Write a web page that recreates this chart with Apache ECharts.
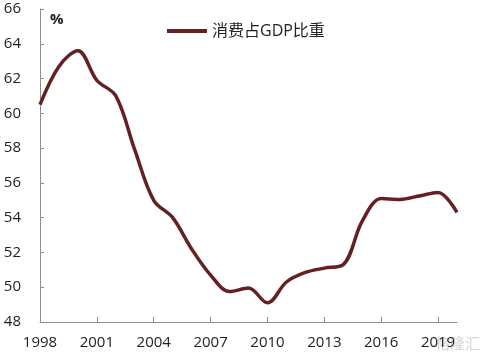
<!DOCTYPE html>
<html>
<head>
<meta charset="utf-8">
<script src="https://cdn.jsdelivr.net/npm/echarts@6/dist/echarts.min.js"></script>
<style>html,body{margin:0;padding:0;background:#fff}#c{width:486px;height:356px}</style>
</head>
<body>
<div id="c"></div>
<script>
var years = ['1998','1999','2000','2001','2002','2003','2004','2005','2006','2007','2008','2009','2010','2011','2012','2013','2014','2015','2016','2017','2018','2019','2020'];
var consumptionShare = [60.5,62.7,63.6,61.9,61.0,57.9,55.0,54.0,52.2,50.7,49.75,49.95,49.1,50.3,50.85,51.1,51.3,53.8,55.1,55.05,55.25,55.45,54.3];
var seriesName = '消费占GDP比重';
var yMin = 48, yMax = 66, yStep = 2;
var unitLabel = '%';

var chart = echarts.init(document.getElementById('c'));
var font = '"Open Sans", "Noto Sans CJK SC", sans-serif';
chart.setOption({
  animation: false,
  grid: {left: 40, right: 29, top: 9, bottom: 34, containLabel: false},
  legend: {
    data: [seriesName], top: 18, left: 162,
    itemWidth: 40, itemHeight: 4, itemGap: 3,
    icon: 'rect',
    textStyle: {fontSize: 16, color: '#222', fontFamily: font}
  },
  graphic: [
    {type: 'text', left: 50, top: 12, style: {text: unitLabel, fontSize: 15, fontWeight: 'bold', fill: '#222', fontFamily: font}},
    {type: 'text', right: 6, bottom: 4, style: {text: '格隆汇', fontSize: 15, fill: '#d6d6d6', fontFamily: font}}
  ],
  xAxis: {
    type: 'category', data: years, boundaryGap: false,
    axisLine: {lineStyle: {color: '#8c8c8c', width: 1}},
    axisTick: {inside: true, length: 5, interval: 2, lineStyle: {color: '#8c8c8c'}},
    axisLabel: {interval: 2, margin: 13, fontSize: 15, color: '#222', fontFamily: font}
  },
  yAxis: {
    type: 'value', min: yMin, max: yMax, interval: yStep,
    axisLine: {show: true, lineStyle: {color: '#8c8c8c', width: 1}},
    axisTick: {show: true, inside: true, length: 4, lineStyle: {color: '#8c8c8c'}},
    splitLine: {show: false},
    axisLabel: {margin: 19, fontSize: 15, color: '#222', fontFamily: font}
  },
  series: [{
    name: seriesName, type: 'line', data: consumptionShare,
    smooth: 0.35, symbol: 'none',
    lineStyle: {color: '#652022', width: 3.5},
    itemStyle: {color: '#652022'}
  }]
});
</script>
</body>
</html>
